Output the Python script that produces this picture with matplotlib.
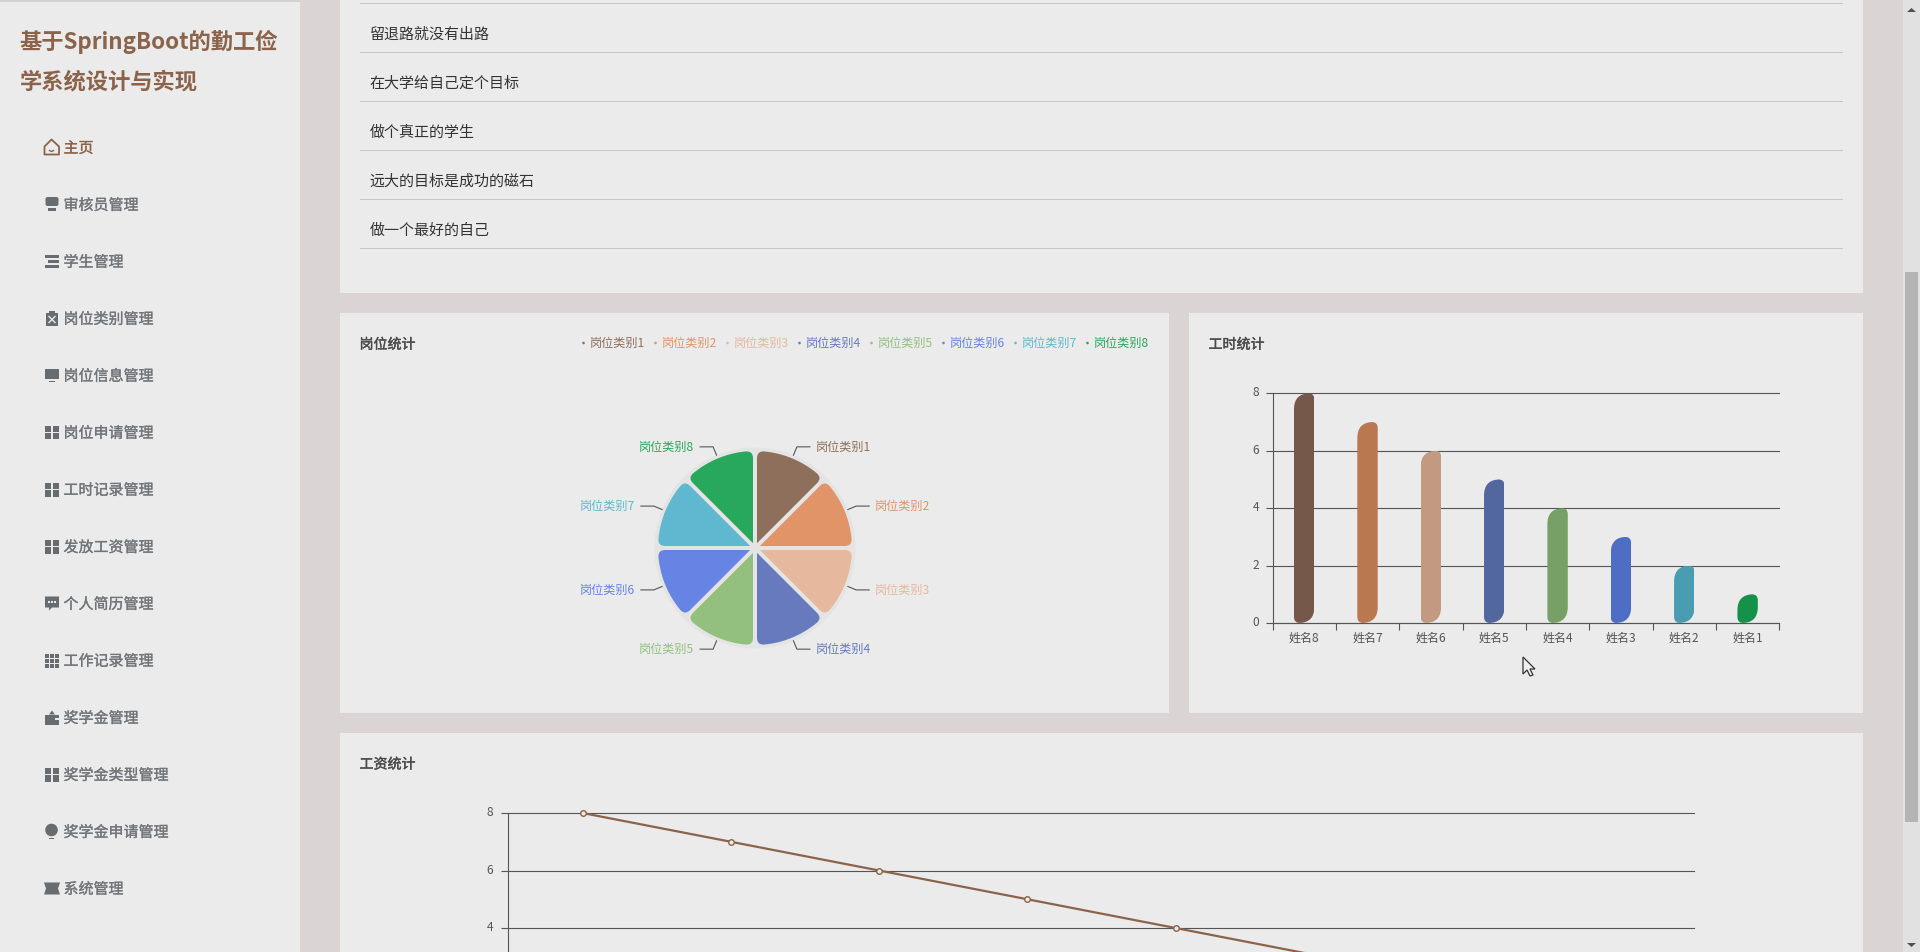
import numpy as np
import matplotlib
matplotlib.use("Agg")
import matplotlib.pyplot as plt
import matplotlib.patheffects as pe
from matplotlib.patches import Rectangle, Circle, Polygon, PathPatch, FancyBboxPatch
from matplotlib.path import Path
from matplotlib.transforms import IdentityTransform, ScaledTranslation

plt.rcParams['font.family'] = ['Noto Sans CJK SC', 'DejaVu Sans']

# ---------- data ----------
app_title = ["基于SpringBoot的勤工俭", "学系统设计与实现"]
menu_items = ["主页", "审核员管理", "学生管理", "岗位类别管理", "岗位信息管理", "岗位申请管理",
              "工时记录管理", "发放工资管理", "个人简历管理", "工作记录管理", "奖学金管理",
              "奖学金类型管理", "奖学金申请管理", "系统管理"]
notices = ["留退路就没有出路", "在大学给自己定个目标", "做个真正的学生", "远大的目标是成功的磁石", "做一个最好的自己"]

job_categories = ["岗位类别1", "岗位类别2", "岗位类别3", "岗位类别4",
                  "岗位类别5", "岗位类别6", "岗位类别7", "岗位类别8"]
job_values = [1, 1, 1, 1, 1, 1, 1, 1]
job_colors = ["#8E6F5B", "#E09468", "#E6B89E", "#667ABD", "#93C07E", "#6584E4", "#5FB8CF", "#28A85C"]

hour_names = ["姓名8", "姓名7", "姓名6", "姓名5", "姓名4", "姓名3", "姓名2", "姓名1"]
hour_values = [8, 7, 6, 5, 4, 3, 2, 1]
hour_colors = ["#76584A", "#BA7850", "#C19A81", "#52679E", "#76A065", "#4D6EC4", "#4A9DB1", "#16914A"]

wage_names = ["姓名8", "姓名7", "姓名6", "姓名5", "姓名4", "姓名3", "姓名2", "姓名1"]
wage_values = [8, 7, 6, 5, 4, 3, 2, 1]

# ---------- style ----------
W, H = 1920, 952
PAGE = "#DAD4D4"
PANEL = "#EBEBEB"
BROWN = "#8B634B"
GREY = "#6F7579"
ICON = "#666C70"
AXIS = "#555555"
def px(s):
    return s * 0.72
def thick(c, w=0.2):
    return [pe.withStroke(linewidth=w, foreground=c)]

fig = plt.figure(figsize=(W / 100, H / 100), dpi=100, facecolor=PAGE)
ui = fig.add_axes([0, 0, 1, 1], zorder=0)
ui.set_xlim(0, W)
ui.set_ylim(H, 0)
ui.axis("off")

def rect(x0, y0, x1, y1, c, ax=ui, **k):
    ax.add_patch(Rectangle((x0, y0), x1 - x0, y1 - y0, fc=c, ec="none", **k))

# panels
rect(0, 0, 300, H, PANEL)
rect(0, 0, 300, 1.5, "#D2D2D2")
rect(340, 0, 1863, 293, PANEL)
rect(340, 313, 1169, 713, PANEL)
rect(1189, 313, 1863, 713, PANEL)
rect(340, 733, 1863, H, PANEL)

# scrollbar
rect(1903, 0, 1920, H, "#E1E1E1")
rect(1905, 272, 1918, 822, "#B4B4B4")
ui.add_patch(Polygon([[1907, 12], [1911.5, 8], [1916, 12]], fc="#505050", ec="none"))
ui.add_patch(Polygon([[1907, 943], [1911.5, 947], [1916, 943]], fc="#505050", ec="none"))

# sidebar title
for s, y in zip(app_title, [42, 82]):
    ui.text(19.5, y, s, fontsize=px(22.3), fontweight="bold", color=BROWN, va="center", ha="left")

# sidebar menu
menu_y = [147.5 + 57 * i for i in range(len(menu_items))]
for i, (s, y) in enumerate(zip(menu_items, menu_y)):
    c = BROWN if i == 0 else GREY
    ui.text(63.5, y + 1.2, s, fontsize=px(15), color=c, va="center", ha="left", path_effects=thick(c))

def grid_icon(y, n=2):
    gap = 1.6 if n == 2 else 1.0
    size = (14 + gap) / n
    for a in range(n):
        for b in range(n):
            rect(45 + a * size, y - 7 + b * size, 45 + (a + 1) * size - gap, y - 7 + (b + 1) * size - gap, ICON)

def draw_icon(i, y):
    if i == 0:
        ui.add_patch(Polygon([[44.5, y - 1], [51.5, y - 8], [59, y - 1], [59, y + 7], [44.5, y + 7]],
                             closed=True, fc="none", ec=BROWN, lw=1.3, joinstyle="round"))
        ui.plot([49.5, 51.5, 53.5], [y + 3, y + 4, y + 3], color=BROWN, lw=1)
    elif i == 1:
        ui.add_patch(FancyBboxPatch((46, y - 7), 12, 8, boxstyle="round,pad=0.5,rounding_size=2", fc=ICON, ec="none"))
        rect(48, y + 3, 56, y + 6, ICON)
    elif i == 2:
        for dy, x0 in [(-5, 45), (0, 48), (5, 45)]:
            rect(x0, y + dy - 1.2, 59, y + dy + 1.2, ICON)
    elif i == 3:
        rect(46, y - 6, 58, y + 7, ICON)
        rect(49, y - 8, 55, y - 6, ICON)
        ui.plot([49, 55], [y - 2, y + 4], color=PANEL, lw=1)
        ui.plot([49, 55], [y + 4, y - 2], color=PANEL, lw=1)
    elif i == 4:
        rect(45, y - 7, 59, y + 3, ICON)
        rect(49, y + 5, 55, y + 6.2, ICON)
    elif i in (5, 6, 7, 11):
        grid_icon(y, 2)
    elif i == 8:
        ui.add_patch(Polygon([[45, y - 7], [59, y - 7], [59, y + 4], [52, y + 4], [49, y + 7], [49, y + 4], [45, y + 4]],
                             fc=ICON, ec="none"))
        for xx in (49, 52, 55):
            rect(xx - 0.7, y - 2.5, xx + 0.7, y - 1, PANEL)
    elif i == 9:
        grid_icon(y, 3)
    elif i == 10:
        ui.add_patch(Polygon([[49, y - 3], [52, y - 7], [55, y - 3]], fc=ICON, ec="none"))
        rect(45, y - 3, 59, y + 7, ICON)
        rect(55, y, 59, y + 2, PANEL)
    elif i == 12:
        ui.add_patch(Circle((51.5, y - 1.5), 6.3, fc=ICON, ec="none"))
        rect(49, y + 6, 54, y + 7.2, ICON)
    elif i == 13:
        ui.add_patch(Polygon([[44, y - 6], [60, y - 6], [58, y], [60, y + 6], [44, y + 6], [46, y]], fc=ICON, ec="none"))

for i, y in enumerate(menu_y):
    draw_icon(i, y)

# notice list
rect(360, 3, 1843, 4, "#C6C6C6")
for i, s in enumerate(notices):
    ui.text(369.5, 34.7 + 49 * i, s, fontsize=px(15), color="#333333", va="center", ha="left")
    rect(360, 52 + 49 * i, 1843, 53 + 49 * i, "#C6C6C6")

# panel titles
title_c = "#4A4A4A"
ui.text(359.5, 344.7, "岗位统计", fontsize=px(14), color=title_c, va="center", path_effects=thick(title_c, 0.3))
ui.text(1208.5, 344.7, "工时统计", fontsize=px(14), color=title_c, va="center", path_effects=thick(title_c, 0.3))
ui.text(359.5, 764.5, "工资统计", fontsize=px(14), color=title_c, va="center", path_effects=thick(title_c, 0.3))

# pie legend
for i, (s, c) in enumerate(zip(job_categories, job_colors)):
    ui.add_patch(Circle((583.5 + 72 * i, 343), 1.3, fc=c, ec="none"))
    ui.text(590 + 72 * i, 343.5, s, fontsize=px(12.1), color=c, va="center", ha="left")

# mouse cursor
ui.add_patch(Polygon([[1523, 657], [1523, 674], [1527, 670], [1530, 676], [1533, 675], [1530, 669], [1535, 669]],
                     closed=True, fc="#EFEFEF", ec="#333333", lw=0.9))

def axes_px(x0, y_top, x1, y_bottom, **k):
    ax = fig.add_axes([x0 / W, 1 - y_bottom / H, (x1 - x0) / W, (y_bottom - y_top) / H], zorder=2, **k)
    ax.patch.set_alpha(0)
    return ax

# ---------- pie ----------
R, RING, GAP, CORNER = 97.0, 100.5, 4.0, 7.0
cx, cy = 755.0, 548.0
pie = axes_px(cx - 200, cy - 150, cx + 200, cy + 150)
pie.add_patch(Circle((0, 0), RING, fc="#E4E4E4", ec="none", zorder=0))
wedges, _ = pie.pie(job_values, radius=R, colors=job_colors, startangle=90, counterclock=False,
                    wedgeprops=dict(linewidth=0))
pie.set_xlim(-200, 200)
pie.set_ylim(-150, 150)
pie.set_aspect("equal")

def sector_path(t1, t2):
    a1, a2 = np.radians(t1), np.radians(t2)
    half = (a2 - a1) / 2
    mid = (a1 + a2) / 2
    apex = GAP / 2 / np.sin(half) * np.array([np.cos(mid), np.sin(mid)])
    def hit(a):
        d = np.array([np.cos(a), np.sin(a)])
        b = apex @ d
        t = -b + np.sqrt(b * b - apex @ apex + R * R)
        return apex + t * d, d
    p1, d1 = hit(a1)
    p2, d2 = hit(a2)
    ang1, ang2 = np.arctan2(p1[1], p1[0]), np.arctan2(p2[1], p2[0])
    if ang2 < ang1:
        ang2 += 2 * np.pi
    da = CORNER / R
    arc = np.linspace(ang1 + da, ang2 - da, 24)
    arc_pts = [R * np.array([np.cos(a), np.sin(a)]) for a in arc]
    verts = [apex, p1 - CORNER * d1, p1, arc_pts[0]] + arc_pts[1:] + [p2, p2 - CORNER * d2, apex, apex]
    codes = [Path.MOVETO, Path.LINETO, Path.CURVE3, Path.CURVE3] + [Path.LINETO] * (len(arc_pts) - 1) + \
            [Path.CURVE3, Path.CURVE3, Path.LINETO, Path.CLOSEPOLY]
    return Path(np.array(verts), codes)

for w, name, c in zip(wedges, job_categories, job_colors):
    # the wedge keeps its place and angle from the data; its outline is replaced by a rounded sector
    shape = sector_path(w.theta1, w.theta2)
    w.set_visible(False)
    pie.add_patch(PathPatch(shape, fc=c, ec="none", zorder=2))
    m = np.radians((w.theta1 + w.theta2) / 2)
    p0 = RING * np.array([np.cos(m), np.sin(m)])
    p1 = (RING + 9) * np.array([np.cos(m), np.sin(m)])
    side = 1 if p0[0] > 0 else -1
    p2 = p1 + np.array([side * 13, 0])
    pie.plot([p0[0], p1[0], p2[0]], [p0[1], p1[1], p2[1]], color=AXIS, lw=0.8, zorder=1)
    pie.text(p2[0] + side * 6, p2[1] - 0.2, name, fontsize=px(12.1), color=c, va="center",
             ha="left" if side > 0 else "right")

# ---------- bars ----------
def style_axis(ax, names, ypad):
    n = len(names)
    ax.set_xlim(-0.5, n - 0.5)
    ax.set_xticks(np.arange(n + 1) - 0.5, labels=[""] * (n + 1))
    ax.set_xticks(np.arange(n), labels=names, minor=True)
    ax.tick_params(axis="x", which="major", length=5, width=0.8, color=AXIS)
    ax.tick_params(axis="x", which="minor", length=0, pad=6, labelsize=px(12), labelcolor="#555555")
    ax.tick_params(axis="y", length=5, width=0.8, color=AXIS, pad=ypad, labelsize=px(12), labelcolor="#555555")
    ax.set_yticks([0, 2, 4, 6, 8])
    ax.yaxis.grid(True, color=AXIS, lw=0.8)
    ax.set_axisbelow(True)
    for g in ax.get_ygridlines():
        g.set_clip_on(False)
    up = ScaledTranslation(0, 2 / 100, fig.dpi_scale_trans)
    for t in ax.get_yticklabels():
        t.set_transform(t.get_transform() + up)
    for s in ("top", "right"):
        ax.spines[s].set_visible(False)
    for s in ("left", "bottom"):
        ax.spines[s].set_color(AXIS)
        ax.spines[s].set_linewidth(0.8)

bar_ax = axes_px(1272.5, 393.3, 1779.3, 623.0)
style_axis(bar_ax, hour_names, 4.5)
bar_ax.set_ylim(0, 8)
bars = bar_ax.bar(np.arange(len(hour_values)), hour_values, width=20.4 / (506.8 / 8), color=hour_colors, zorder=3)

def rounded_rect_path(x0, y0, x1, y1, tl, tr, br, bl):
    k = Path
    v = [(x0 + bl, y0), (x1 - br, y0), (x1, y0), (x1, y0 + br), (x1, y1 - tr), (x1, y1), (x1 - tr, y1),
         (x0 + tl, y1), (x0, y1), (x0, y1 - tl), (x0, y0 + bl), (x0, y0), (x0 + bl, y0), (x0 + bl, y0)]
    c = [k.MOVETO, k.LINETO, k.CURVE3, k.CURVE3, k.LINETO, k.CURVE3, k.CURVE3,
         k.LINETO, k.CURVE3, k.CURVE3, k.LINETO, k.CURVE3, k.CURVE3, k.CLOSEPOLY]
    return Path(np.array(v, float), c)

for b in bars:
    (x0, y0), (x1, y1) = bar_ax.transData.transform(
        [(b.get_x(), 0), (b.get_x() + b.get_width(), b.get_height())])
    b.set_clip_path(rounded_rect_path(x0, y0, x1, y1, 16, 6, 16, 6), IdentityTransform())

# ---------- line ----------
Y_BOTTOM = 8 - (H - 813.0) / 28.75
line_ax = axes_px(508.4, 813.0, 1694.4, H)
style_axis(line_ax, wage_names, 6)
line_ax.set_ylim(Y_BOTTOM, 8)
line_ax.spines["bottom"].set_visible(False)
line_ax.tick_params(axis="x", which="both", bottom=False, labelbottom=False)
line_ax.plot(np.arange(len(wage_values)), wage_values, color=BROWN, lw=1.6, marker="o", ms=4,
             mfc=PANEL, mec=BROWN, mew=1.0, clip_on=False, zorder=3)

fig.savefig("out.png", dpi=100, facecolor=PAGE)
